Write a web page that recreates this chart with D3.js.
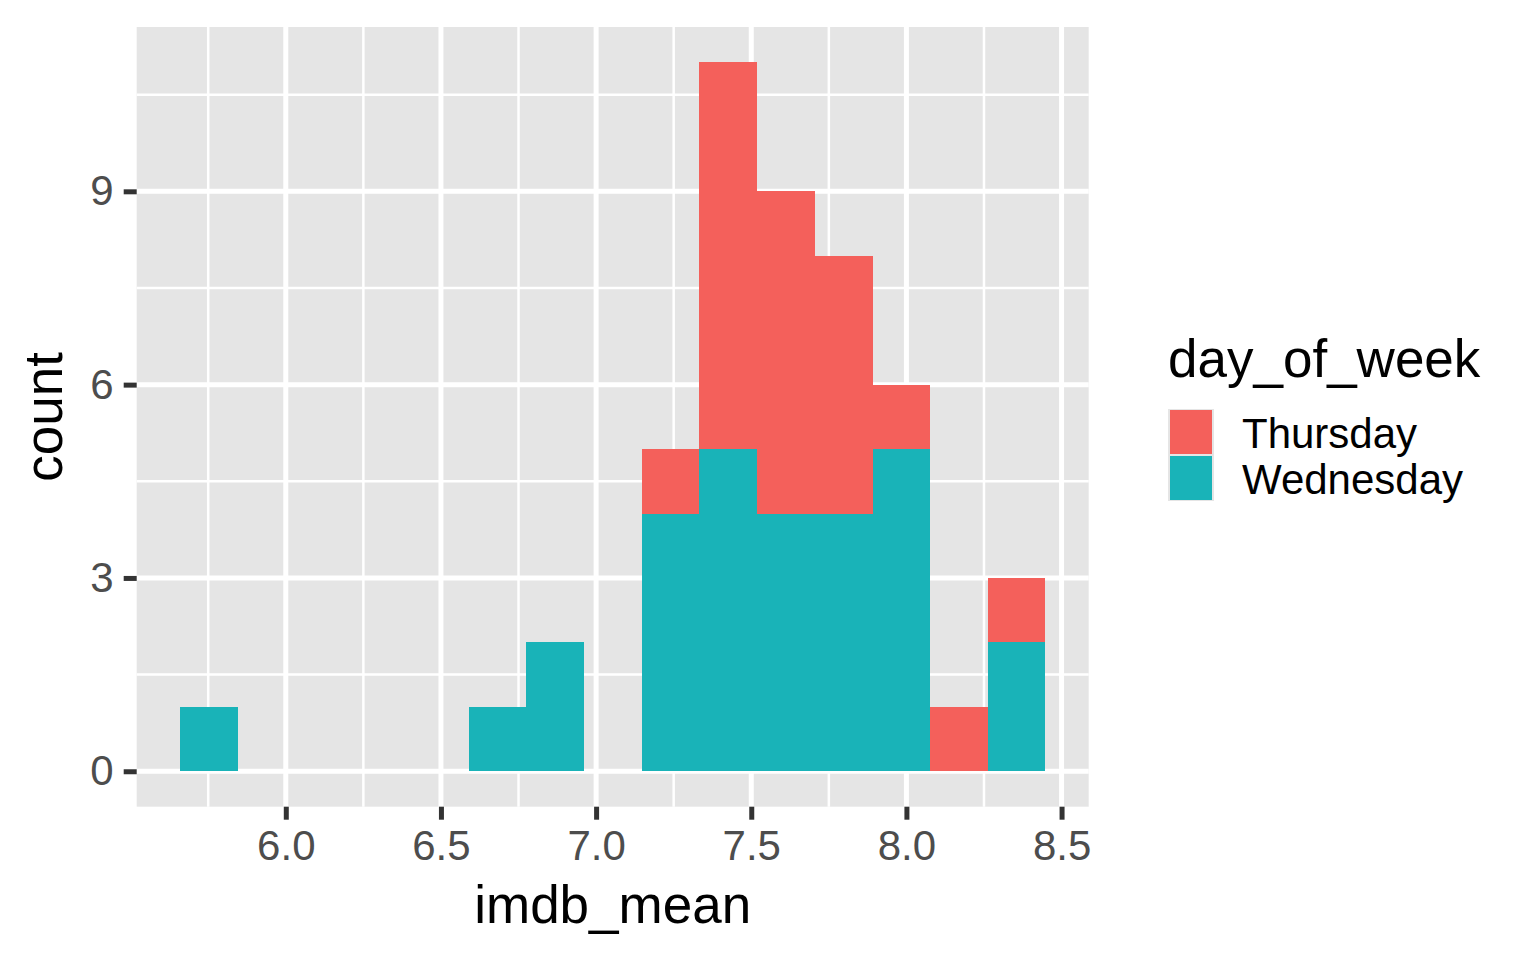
<!DOCTYPE html>
<html>
<head>
<meta charset="utf-8">
<script src="https://cdn.jsdelivr.net/npm/d3@7"></script>
<style>
  body { margin: 0; background: #fff; }
  svg text { font-family: "Liberation Sans", Arial, Helvetica, sans-serif; }
</style>
</head>
<body>
<svg id="chart" width="1536" height="960"></svg>
<script>
// histogram bin edges (imdb_mean), 15 bins
const binEdges = [5.659, 5.845, 6.031, 6.217, 6.403, 6.589, 6.775, 6.961,
                  7.147, 7.333, 7.519, 7.705, 7.891, 8.077, 8.263, 8.448]
// counts per bin for each day
const wednesday = [1, 0, 0, 0, 0, 1, 2, 0, 4, 5, 4, 4, 5, 0, 2]
const thursday  = [0, 0, 0, 0, 0, 0, 0, 0, 1, 6, 5, 4, 1, 1, 1]
const days = ["Thursday", "Wednesday"]
const dayColors = ["#F4605B", "#19B3B8"]
const xTicks = [6.0, 6.5, 7.0, 7.5, 8.0, 8.5]
const xMinor = [5.75, 6.25, 6.75, 7.25, 7.75, 8.25]
const yTicks = [0, 3, 6, 9]
const yMinor = [1.5, 4.5, 7.5, 10.5]

const svg = d3.select("#chart")
const panel = {left: 136.7, right: 1088.7, top: 27, bottom: 806.7}

// ggplot style 5% expansion
const xLo = binEdges[0], xHi = binEdges[binEdges.length - 1]
const xPad = (xHi - xLo) * 0.05
const xScale = d3.scaleLinear().domain([xLo - xPad, xHi + xPad])
                 .range([panel.left, panel.right])

const totals = wednesday.map((w, i) => w + thursday[i])
const yMax = d3.max(totals)
const yScale = d3.scaleLinear().domain([-yMax * 0.05, yMax * 1.05])
                 .range([panel.bottom, panel.top])

// panel background
svg.append("rect")
   .attr("x", panel.left).attr("y", panel.top)
   .attr("width", panel.right - panel.left)
   .attr("height", panel.bottom - panel.top)
   .attr("fill", "#E5E5E5")

// grid lines
const grid = svg.append("g").attr("stroke", "#fff")
grid.selectAll(".xminor").data(xMinor).join("line")
    .attr("x1", d => xScale(d)).attr("x2", d => xScale(d))
    .attr("y1", panel.top).attr("y2", panel.bottom).attr("stroke-width", 2.5)
grid.selectAll(".yminor").data(yMinor).join("line")
    .attr("y1", d => yScale(d)).attr("y2", d => yScale(d))
    .attr("x1", panel.left).attr("x2", panel.right).attr("stroke-width", 2.5)
grid.selectAll(".xmajor").data(xTicks).join("line")
    .attr("x1", d => xScale(d)).attr("x2", d => xScale(d))
    .attr("y1", panel.top).attr("y2", panel.bottom).attr("stroke-width", 5)
grid.selectAll(".ymajor").data(yTicks).join("line")
    .attr("y1", d => yScale(d)).attr("y2", d => yScale(d))
    .attr("x1", panel.left).attr("x2", panel.right).attr("stroke-width", 5)

// stacked bars: Wednesday at the bottom, Thursday on top
const bins = wednesday.map((w, i) => ({
    x0: binEdges[i], x1: binEdges[i + 1], Wednesday: w, Thursday: thursday[i]
}))
const stack = d3.stack().keys(["Wednesday", "Thursday"])(bins)
const color = d3.scaleOrdinal().domain(days).range(dayColors)

svg.append("g").selectAll("g")
   .data(stack)
   .join("g")
   .attr("fill", s => color(s.key))
   .selectAll("rect")
   .data(s => s.filter(d => d[1] > d[0]))
   .join("rect")
   .attr("x", d => xScale(d.data.x0))
   .attr("width", d => xScale(d.data.x1) - xScale(d.data.x0))
   .attr("y", d => yScale(d[1]))
   .attr("height", d => yScale(d[0]) - yScale(d[1]))
   .attr("shape-rendering", "crispEdges")

// axes
const x_axis = d3.axisBottom(xScale).tickValues(xTicks)
                 .tickFormat(d3.format(".1f")).tickSize(13).tickPadding(10)
const y_axis = d3.axisLeft(yScale).tickValues(yTicks)
                 .tickSize(13).tickPadding(10)

const gx = svg.append("g").attr("transform", `translate(0,${panel.bottom})`).call(x_axis)
const gy = svg.append("g").attr("transform", `translate(${panel.left},0)`).call(y_axis)
for (const g of [gx, gy]) {
    g.select(".domain").remove()
    g.selectAll(".tick line").attr("stroke", "#333").attr("stroke-width", 5)
    g.selectAll(".tick text").attr("fill", "#4D4D4D").attr("font-size", 42)
     .attr("font-family", "Liberation Sans, Arial, sans-serif")
}

// axis titles
svg.append("text")
   .attr("x", (panel.left + panel.right) / 2).attr("y", 923)
   .attr("text-anchor", "middle").attr("font-size", 53)
   .text("imdb_mean")
svg.append("text")
   .attr("transform", `translate(62,${(panel.top + panel.bottom) / 2}) rotate(-90)`)
   .attr("text-anchor", "middle").attr("font-size", 53)
   .text("count")

// legend
const legend = svg.append("g").attr("transform", "translate(1168,0)")
legend.append("text").attr("x", 0).attr("y", 377)
      .attr("font-size", 53).text("day_of_week")
const keys = legend.selectAll(".key").data(days).join("g")
      .attr("transform", (d, i) => `translate(0,${409 + i * 46})`)
keys.append("rect").attr("width", 46).attr("height", 46).attr("fill", "#E5E5E5")
keys.append("rect").attr("x", 2).attr("y", 1).attr("width", 42).attr("height", 44)
    .attr("fill", d => color(d))
keys.append("text").attr("x", 74).attr("y", 39)
    .attr("font-size", 42).text(d => d)
</script>
</body>
</html>
